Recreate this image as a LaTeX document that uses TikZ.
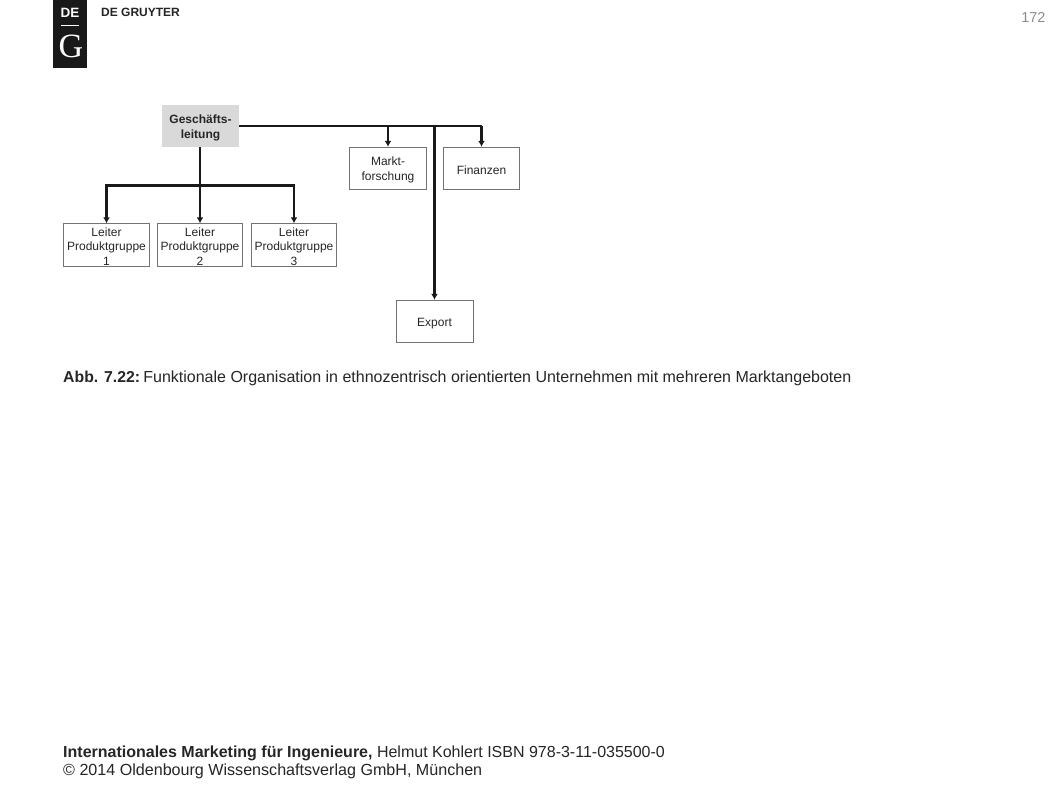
\documentclass[tikz,border=0pt]{standalone}
\usepackage{fontspec}
\setmainfont{Liberation Sans}
\newfontfamily\logoserif{Liberation Serif}
\usetikzlibrary{arrows.meta,calc}
\newcommand{\lowerline}{\rule{0pt}{11.8pt}}
\tikzset{
  orgbox/.style={draw=black!55,line width=0.9pt,fill=white,minimum width=#1,minimum height=42.5pt,inner sep=0pt,align=center,font=\fontsize{12}{14.7}\selectfont,text=black!85},
  orgbox/.default=77pt,
  topbox/.style={fill=black!15,draw=none,minimum width=77pt,minimum height=42.5pt,inner sep=0pt,align=center,font=\fontsize{12}{15}\selectfont\bfseries,text=black!85},
  conn/.style={line width=2.4pt,black!90,-{Latex[length=6pt,width=7pt]}},
  connplain/.style={line width=2.4pt,black!90},
  plaintext/.style={inner sep=0pt,anchor=base west,text=black!85}
}
\begin{document}
\begin{tikzpicture}[x=1pt,y=-1pt]
\useasboundingbox (0,0) rectangle (1058,794);
\fill[white] (0,0) rectangle (1058,794);
% logo
\fill[black!90] (53,0) rectangle (87,68);
\node[inner sep=0pt,text=white,font=\fontsize{13.5}{14}\selectfont\bfseries] (logode) at (70,12.5) {DE};
\draw[white,line width=1pt] (61,25.5) -- (79,25.5);
\node[inner sep=0pt,text=white,font=\logoserif\fontsize{34}{34}\selectfont] (logog) at (71,46) {G};
\node[inner sep=0pt,anchor=west,text=black!85,font=\fontsize{12}{14}\selectfont\bfseries] (logoname) at (101,12.5) {DE GRUYTER};
\node[inner sep=0pt,anchor=base east,text=black!45,font=\fontsize{14.4}{16}\selectfont] (page) at (1045.5,23) {172};
% boxes
\node[topbox] (gl) at (200.5,126) {\lowerline Geschäfts-\\leitung};
\node[orgbox=85.5pt] (l1) at (106.5,245) {\lowerline Leiter\\Produktgruppe\\1};
\node[orgbox=85.5pt] (l2) at (200,245) {\lowerline Leiter\\Produktgruppe\\2};
\node[orgbox=85.5pt] (l3) at (294,245) {\lowerline Leiter\\Produktgruppe\\3};
\node[orgbox] (mf) at (388,168.5) {\lowerline Markt-\\forschung};
\node[orgbox=76.5pt] (fi) at (481.5,168.5) {\lowerline Finanzen};
\node[orgbox] (ex) at (434.5,321.5) {\lowerline Export};
% connectors
\coordinate (split) at (200,185.5);
\coordinate (corner) at (481.5,126);
\draw[connplain] (gl.south -| l2.north) -- (split);
\draw[conn] (split) -- (l2.north);
\draw[conn] (split) -| (l1.north);
\draw[conn] (split) -| (l3.north);
\draw[connplain] (gl.east) -- (corner);
\draw[conn] (gl.east -| mf.north) -- (mf.north);
\draw[conn] (gl.east -| ex.north) -- (ex.north);
\draw[conn] (corner) -- (fi.north);
% caption
\node[plaintext,font=\fontsize{16}{18}\selectfont] (cap) at (63,382) {\textbf{\fontsize{15.8}{18}\selectfont Abb. 7.22:}\hspace{3.2pt}Funktionale Organisation in ethnozentrisch orientierten Unternehmen mit mehreren Marktangeboten};
% footer
\node[plaintext,font=\fontsize{16}{18}\selectfont] (f1) at (63,757) {\textbf{Internationales Marketing für Ingenieure,} Helmut Kohlert ISBN 978-3-11-035500-0};
\node[plaintext,font=\fontsize{16.1}{18}\selectfont] (f2) at (63,775) {© 2014 Oldenbourg Wissenschaftsverlag GmbH, München};
\end{tikzpicture}
\end{document}
